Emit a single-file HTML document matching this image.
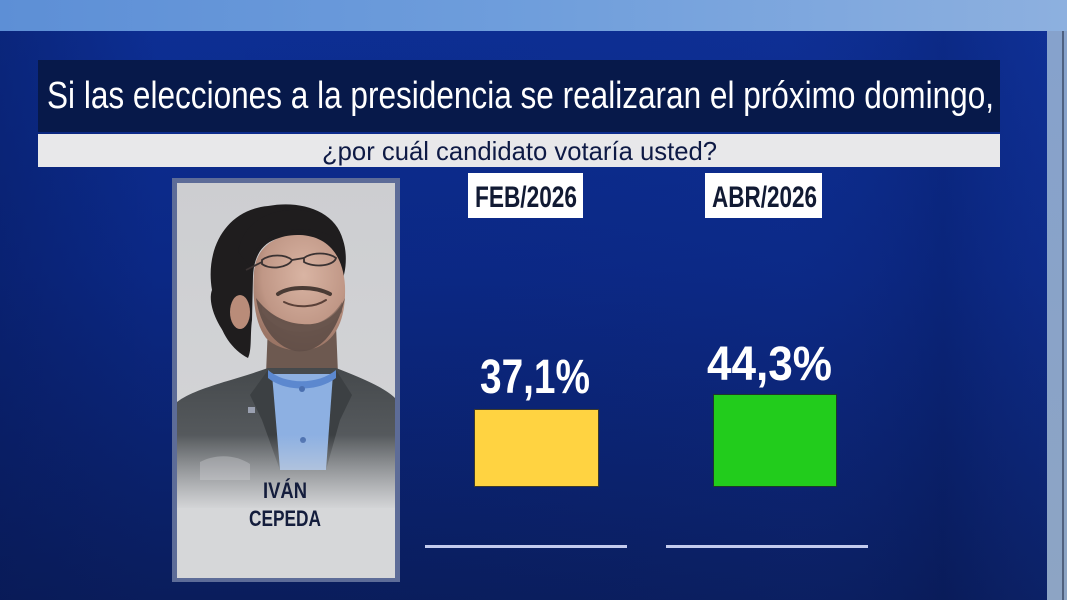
<!DOCTYPE html>
<html>
<head>
<meta charset="utf-8">
<style>
  html,body{margin:0;padding:0;background:#0a2478;}
  body{width:1067px;height:600px;overflow:hidden;}
  svg{display:block;}
</style>
</head>
<body>
<svg width="1067" height="600" viewBox="0 0 1067 600" xmlns="http://www.w3.org/2000/svg">
  <defs>
    <linearGradient id="topStrip" x1="0" y1="0" x2="1" y2="0">
      <stop offset="0" stop-color="#5d8fd6"/>
      <stop offset="0.5" stop-color="#6f9edc"/>
      <stop offset="1" stop-color="#8db0df"/>
    </linearGradient>
    <linearGradient id="panel" x1="0" y1="0" x2="0" y2="1">
      <stop offset="0" stop-color="#0d2f95"/>
      <stop offset="0.45" stop-color="#0b2885"/>
      <stop offset="1" stop-color="#0a1d5c"/>
    </linearGradient>
    <linearGradient id="panelH" x1="0" y1="0" x2="1" y2="0">
      <stop offset="0" stop-color="#061650" stop-opacity="0.35"/>
      <stop offset="0.15" stop-color="#061650" stop-opacity="0"/>
      <stop offset="0.75" stop-color="#1a3aa0" stop-opacity="0.08"/>
      <stop offset="0.9" stop-color="#061650" stop-opacity="0.2"/>
      <stop offset="1" stop-color="#1a3aa0" stop-opacity="0.15"/>
    </linearGradient>
    <linearGradient id="rightStrip" x1="0" y1="0" x2="0" y2="1">
      <stop offset="0" stop-color="#86a2cc"/>
      <stop offset="1" stop-color="#8da4c4"/>
    </linearGradient>
    <linearGradient id="cardBg" x1="0" y1="0" x2="0" y2="1">
      <stop offset="0" stop-color="#cdced1"/>
      <stop offset="1" stop-color="#d6d7d9"/>
    </linearGradient>
    <linearGradient id="fade" x1="0" y1="0" x2="0" y2="1">
      <stop offset="0" stop-color="#d6d7d9" stop-opacity="0"/>
      <stop offset="1" stop-color="#d6d7d9" stop-opacity="1"/>
    </linearGradient>
    <linearGradient id="jacket" x1="0" y1="0" x2="0" y2="1">
      <stop offset="0" stop-color="#45494c"/>
      <stop offset="1" stop-color="#6a6e72"/>
    </linearGradient>
    <radialGradient id="skin" cx="0.55" cy="0.35" r="0.65">
      <stop offset="0" stop-color="#d9b4a3"/>
      <stop offset="0.7" stop-color="#c09786"/>
      <stop offset="1" stop-color="#9b7565"/>
    </radialGradient>
    <clipPath id="cardClip">
      <rect x="177" y="183" width="218" height="395"/>
    </clipPath>
  </defs>

  <!-- background -->
  <rect x="0" y="0" width="1067" height="600" fill="url(#panel)"/>
  <rect x="0" y="31" width="1048" height="569" fill="url(#panelH)"/>
  <rect x="0" y="0" width="1067" height="31" fill="url(#topStrip)"/>
  <rect x="1047" y="31" width="20" height="569" fill="url(#rightStrip)"/>
  <rect x="1062" y="31" width="2" height="569" fill="#2a3550" opacity="0.6"/>

  <!-- title band -->
  <rect x="38" y="60" width="962" height="72" fill="#07194a"/>
  <text x="47" y="108" font-family="Liberation Sans, sans-serif" font-size="38" fill="#ffffff" textLength="947" lengthAdjust="spacingAndGlyphs">Si las elecciones a la presidencia se realizaran el próximo domingo,</text>

  <!-- subtitle band -->
  <rect x="38" y="134" width="962" height="33" fill="#e8e8ea"/>
  <text x="322" y="160" font-family="Liberation Sans, sans-serif" font-size="26" fill="#0e1a45" textLength="395" lengthAdjust="spacingAndGlyphs">¿por cuál candidato votaría usted?</text>

  <!-- photo card -->
  <rect x="172" y="178" width="228" height="404" fill="#5d6c98"/>
  <rect x="177" y="183" width="218" height="395" fill="url(#cardBg)"/>
  <g clip-path="url(#cardClip)">
    <!-- neck -->
    <path d="M268,325 L336,325 L338,374 L266,374 Z" fill="#6d5950"/>
    <!-- jacket -->
    <path d="M177,402 C195,388 235,380 268,368 L336,368 C362,378 385,388 395,398 L395,520 L177,520 Z" fill="url(#jacket)"/>
    <!-- lapels -->
    <path d="M268,370 L250,395 L262,420 L280,470 L285,470 L272,380 Z" fill="#3c4043"/>
    <path d="M336,370 L352,395 L340,420 L326,470 L322,470 L332,380 Z" fill="#3c4043"/>
    <!-- shirt -->
    <path d="M272,374 L333,374 L326,470 L280,470 Z" fill="#8db0e2"/>
    <path d="M268,370 C285,385 318,385 336,370 L336,378 C318,392 285,392 268,378 Z" fill="#5c88cf"/>
    <circle cx="302" cy="389" r="3" fill="#4a6fb0"/>
    <circle cx="303" cy="440" r="3" fill="#4a6fb0"/>
    <rect x="248" y="407" width="7" height="6" fill="#9aa0b0"/>
    <!-- hair back -->
    <path d="M212,290 C205,250 225,210 268,206 C300,200 335,210 343,240 C348,255 346,275 340,285 L336,262 C328,242 305,234 280,238 C262,242 254,256 253,276 L252,320 C250,335 252,350 248,358 C232,350 220,332 218,314 C212,306 212,298 212,290 Z" fill="#1f1d1e"/>
    <path d="M212,290 C208,300 214,320 226,335 L232,320 Z" fill="#1f1d1e"/>
    <!-- face -->
    <path d="M254,272 C256,247 275,234 300,235 C325,236 343,252 345,286 C346,316 338,338 318,347 C300,354 278,350 266,338 C256,325 252,302 254,272 Z" fill="url(#skin)"/>
    <!-- beard -->
    <path d="M256,298 C260,325 274,346 295,351 C316,354 336,338 345,298 C336,318 320,326 302,324 C284,323 268,314 256,298 Z" fill="#5e4d46" opacity="0.9"/>
    <path d="M262,305 C270,318 285,326 300,326 C318,326 332,318 342,302 L342,312 C332,326 316,332 300,332 C284,332 270,324 262,312 Z" fill="#6b574e" opacity="0.6"/>
    <!-- mustache / smile -->
    <path d="M278,294 C290,286 314,286 330,294" stroke="#4a3b35" stroke-width="4" fill="none" stroke-linecap="round"/>
    <path d="M284,302 C296,308 314,308 326,300" stroke="#5a4038" stroke-width="2" fill="none" stroke-linecap="round"/>
    <!-- ear -->
    <ellipse cx="240" cy="312" rx="10" ry="17" fill="#b98c79"/>
    <!-- glasses -->
    <path d="M262,260 C270,254 285,254 292,260 C288,268 270,270 262,264 Z M304,258 C312,252 328,252 336,258 C334,266 314,268 304,262 Z" stroke="#3a3232" stroke-width="1.8" fill="none"/>
    <path d="M292,260 L304,258 M262,262 L246,270" stroke="#3a3232" stroke-width="1.8"/>
    <!-- hair top overlapping forehead -->
    <path d="M238,252 C243,222 270,208 300,210 C322,212 337,222 342,242 C326,230 302,226 282,232 C264,238 254,248 250,266 Z" fill="#1f1d1e"/>
    <!-- crossed arms hint -->
    <path d="M200,462 C215,454 235,454 250,464 L250,480 L200,480 Z" fill="#a7aaae" opacity="0.55"/>
    <!-- bottom fade -->
    <rect x="177" y="435" width="218" height="75" fill="url(#fade)"/>
    <rect x="177" y="508" width="218" height="72" fill="#d6d7d9"/>
  </g>
  <text x="263" y="498" font-family="Liberation Sans, sans-serif" font-weight="bold" font-size="22" fill="#141d3c" textLength="44" lengthAdjust="spacingAndGlyphs">IVÁN</text>
  <text x="249" y="526" font-family="Liberation Sans, sans-serif" font-weight="bold" font-size="22" fill="#141d3c" textLength="72" lengthAdjust="spacingAndGlyphs">CEPEDA</text>

  <!-- date labels -->
  <rect x="468" y="173" width="115" height="45" fill="#ffffff"/>
  <text x="475" y="207" font-family="Liberation Sans, sans-serif" font-weight="bold" font-size="30" fill="#111a33" textLength="102" lengthAdjust="spacingAndGlyphs">FEB/2026</text>
  <rect x="705" y="173" width="117" height="45" fill="#ffffff"/>
  <text x="712" y="207" font-family="Liberation Sans, sans-serif" font-weight="bold" font-size="30" fill="#111a33" textLength="105" lengthAdjust="spacingAndGlyphs">ABR/2026</text>

  <!-- values -->
  <text x="480" y="393" font-family="Liberation Sans, sans-serif" font-weight="bold" font-size="48" fill="#ffffff" textLength="110" lengthAdjust="spacingAndGlyphs">37,1%</text>
  <text x="707" y="380" font-family="Liberation Sans, sans-serif" font-weight="bold" font-size="48" fill="#ffffff" textLength="125" lengthAdjust="spacingAndGlyphs">44,3%</text>

  <!-- bars -->
  <rect x="474.5" y="409.5" width="124" height="77" fill="#ffd341" stroke="#3d3a2a" stroke-width="1"/>
  <rect x="713.5" y="394.5" width="123" height="92" fill="#22cc1c" stroke="#1d3a2a" stroke-width="1"/>

  <!-- baselines -->
  <rect x="425" y="545" width="202" height="3" fill="#c3cbee"/>
  <rect x="666" y="545" width="202" height="3" fill="#c3cbee"/>
</svg>
</body>
</html>
